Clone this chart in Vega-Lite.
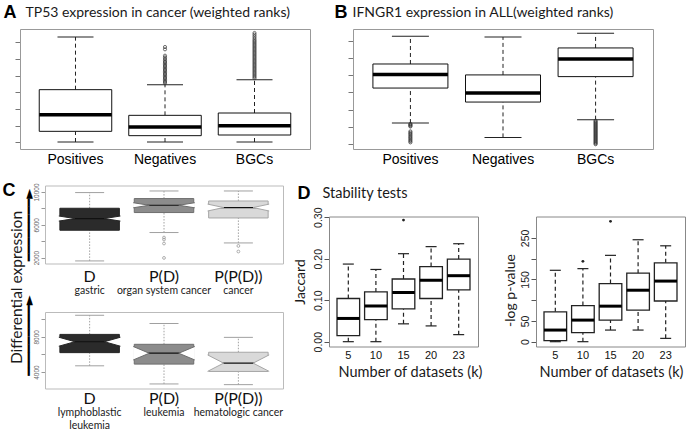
{
 "$schema": "https://vega.github.io/schema/vega-lite/v6.json",
 "width": 688, "height": 436,
 "autosize": {"type": "none"},
 "padding": 0,
 "background": "white",
 "config": {"view": {"stroke": null}, "axis": {"grid": false, "labelOverlap": false, "labelFlush": false, "labelBound": false, "titleLimit": 1000, "labelLimit": 1000, "domainWidth": 1}, "tick": {"opacity": 1}},
 "datasets": {
  "stats": [
   {"p": "A", "g": "Positives", "lo": 0.02, "q1": 0.66, "med": 1.66, "q3": 3.16, "hi": 6.32},
   {"p": "A", "g": "Negatives", "lo": 0.02, "q1": 0.4, "med": 0.92, "q3": 1.62, "hi": 3.46},
   {"p": "A", "g": "BGCs", "lo": 0.02, "q1": 0.44, "med": 1.0, "q3": 1.76, "hi": 3.76},
   {"p": "B", "g": "Positives", "lo": 1.21, "q1": 3.26, "med": 4.06, "q3": 4.67, "hi": 6.29},
   {"p": "B", "g": "Negatives", "lo": 0.37, "q1": 2.44, "med": 2.97, "q3": 4.03, "hi": 6.25},
   {"p": "B", "g": "BGCs", "lo": 1.41, "q1": 3.93, "med": 4.96, "q3": 5.61, "hi": 6.47},
   {"p": "Ct", "g": "D", "lo": 1585, "q1": 5329, "med": 6756, "q3": 8012, "hi": 9927},
   {"p": "Ct", "g": "P(D)", "lo": 5049, "q1": 7488, "med": 8378, "q3": 9195, "hi": 10122},
   {"p": "Ct", "g": "P(P(D))", "lo": 3780, "q1": 6829, "med": 8098, "q3": 8902, "hi": 10122},
   {"p": "Cb", "g": "D", "lo": 4708, "q1": 6202, "med": 7438, "q3": 8270, "hi": 10438},
   {"p": "Cb", "g": "P(D)", "lo": 2652, "q1": 4899, "med": 6135, "q3": 7146, "hi": 9506},
   {"p": "Cb", "g": "P(P(D))", "lo": 2573, "q1": 4067, "med": 5011, "q3": 6247, "hi": 7933},
   {"p": "D1", "g": "5", "lo": 0, "q1": 0.0148, "med": 0.056, "q3": 0.104, "hi": 0.187},
   {"p": "D1", "g": "10", "lo": 0, "q1": 0.053, "med": 0.086, "q3": 0.12, "hi": 0.174},
   {"p": "D1", "g": "15", "lo": 0.043, "q1": 0.079, "med": 0.1185, "q3": 0.151, "hi": 0.212},
   {"p": "D1", "g": "20", "lo": 0.038, "q1": 0.104, "med": 0.148, "q3": 0.181, "hi": 0.229},
   {"p": "D1", "g": "23", "lo": 0.017, "q1": 0.125, "med": 0.159, "q3": 0.199, "hi": 0.236},
   {"p": "D2", "g": "5", "lo": 0, "q1": 2.4, "med": 28, "q3": 72, "hi": 172},
   {"p": "D2", "g": "10", "lo": 0, "q1": 21.6, "med": 52, "q3": 87, "hi": 176},
   {"p": "D2", "g": "15", "lo": 28, "q1": 52, "med": 85.6, "q3": 140, "hi": 208},
   {"p": "D2", "g": "20", "lo": 28, "q1": 76, "med": 124, "q3": 165, "hi": 245.6},
   {"p": "D2", "g": "23", "lo": 8, "q1": 98, "med": 146, "q3": 190, "hi": 231}
  ],
  "outl": [
   {"p": "A", "g": "Negatives", "v": 3.54}, {"p": "A", "g": "Negatives", "v": 3.62}, {"p": "A", "g": "Negatives", "v": 3.7}, {"p": "A", "g": "Negatives", "v": 3.78},
   {"p": "A", "g": "Negatives", "v": 3.86}, {"p": "A", "g": "Negatives", "v": 3.94}, {"p": "A", "g": "Negatives", "v": 4.02}, {"p": "A", "g": "Negatives", "v": 4.1},
   {"p": "A", "g": "Negatives", "v": 4.18}, {"p": "A", "g": "Negatives", "v": 4.26}, {"p": "A", "g": "Negatives", "v": 4.34}, {"p": "A", "g": "Negatives", "v": 4.42},
   {"p": "A", "g": "Negatives", "v": 4.5}, {"p": "A", "g": "Negatives", "v": 4.58}, {"p": "A", "g": "Negatives", "v": 4.66}, {"p": "A", "g": "Negatives", "v": 4.74},
   {"p": "A", "g": "Negatives", "v": 4.82}, {"p": "A", "g": "Negatives", "v": 4.9}, {"p": "A", "g": "Negatives", "v": 5.0}, {"p": "A", "g": "Negatives", "v": 5.1},
   {"p": "A", "g": "Negatives", "v": 5.2}, {"p": "A", "g": "Negatives", "v": 5.58}, {"p": "A", "g": "Negatives", "v": 5.72},
   {"p": "A", "g": "BGCs", "v": 3.84}, {"p": "A", "g": "BGCs", "v": 3.92}, {"p": "A", "g": "BGCs", "v": 4.0}, {"p": "A", "g": "BGCs", "v": 4.08},
   {"p": "A", "g": "BGCs", "v": 4.16}, {"p": "A", "g": "BGCs", "v": 4.24}, {"p": "A", "g": "BGCs", "v": 4.32}, {"p": "A", "g": "BGCs", "v": 4.4},
   {"p": "A", "g": "BGCs", "v": 4.48}, {"p": "A", "g": "BGCs", "v": 4.56}, {"p": "A", "g": "BGCs", "v": 4.64}, {"p": "A", "g": "BGCs", "v": 4.72},
   {"p": "A", "g": "BGCs", "v": 4.8}, {"p": "A", "g": "BGCs", "v": 4.88}, {"p": "A", "g": "BGCs", "v": 4.96}, {"p": "A", "g": "BGCs", "v": 5.04},
   {"p": "A", "g": "BGCs", "v": 5.12}, {"p": "A", "g": "BGCs", "v": 5.2}, {"p": "A", "g": "BGCs", "v": 5.28}, {"p": "A", "g": "BGCs", "v": 5.36},
   {"p": "A", "g": "BGCs", "v": 5.44}, {"p": "A", "g": "BGCs", "v": 5.52}, {"p": "A", "g": "BGCs", "v": 5.6}, {"p": "A", "g": "BGCs", "v": 5.68},
   {"p": "A", "g": "BGCs", "v": 5.76}, {"p": "A", "g": "BGCs", "v": 5.84}, {"p": "A", "g": "BGCs", "v": 5.92}, {"p": "A", "g": "BGCs", "v": 6.0},
   {"p": "A", "g": "BGCs", "v": 6.08}, {"p": "A", "g": "BGCs", "v": 6.16}, {"p": "A", "g": "BGCs", "v": 6.26}, {"p": "A", "g": "BGCs", "v": 6.36},
   {"p": "A", "g": "BGCs", "v": 6.46}, {"p": "A", "g": "BGCs", "v": 6.56},
   {"p": "B", "g": "Positives", "v": 1.16}, {"p": "B", "g": "Positives", "v": 1.11}, {"p": "B", "g": "Positives", "v": 1.06}, {"p": "B", "g": "Positives", "v": 1.01},
   {"p": "B", "g": "Positives", "v": 0.72}, {"p": "B", "g": "Positives", "v": 0.64}, {"p": "B", "g": "Positives", "v": 0.56}, {"p": "B", "g": "Positives", "v": 0.48},
   {"p": "B", "g": "Positives", "v": 0.4}, {"p": "B", "g": "Positives", "v": 0.32}, {"p": "B", "g": "Positives", "v": 0.24}, {"p": "B", "g": "Positives", "v": 0.16},
   {"p": "B", "g": "Positives", "v": 0.08},
   {"p": "B", "g": "BGCs", "v": 1.35}, {"p": "B", "g": "BGCs", "v": 1.29}, {"p": "B", "g": "BGCs", "v": 1.23}, {"p": "B", "g": "BGCs", "v": 1.17},
   {"p": "B", "g": "BGCs", "v": 1.11}, {"p": "B", "g": "BGCs", "v": 1.05}, {"p": "B", "g": "BGCs", "v": 0.99}, {"p": "B", "g": "BGCs", "v": 0.93},
   {"p": "B", "g": "BGCs", "v": 0.87}, {"p": "B", "g": "BGCs", "v": 0.81}, {"p": "B", "g": "BGCs", "v": 0.75}, {"p": "B", "g": "BGCs", "v": 0.69},
   {"p": "B", "g": "BGCs", "v": 0.63}, {"p": "B", "g": "BGCs", "v": 0.57}, {"p": "B", "g": "BGCs", "v": 0.51}, {"p": "B", "g": "BGCs", "v": 0.45},
   {"p": "B", "g": "BGCs", "v": 0.39}, {"p": "B", "g": "BGCs", "v": 0.33}, {"p": "B", "g": "BGCs", "v": 0.27}, {"p": "B", "g": "BGCs", "v": 0.21},
   {"p": "B", "g": "BGCs", "v": 0.15}, {"p": "B", "g": "BGCs", "v": 0.09}, {"p": "B", "g": "BGCs", "v": 0.03}, {"p": "B", "g": "BGCs", "v": -0.03},
   {"p": "Ct", "g": "P(D)", "v": 4439}, {"p": "Ct", "g": "P(D)", "v": 4195}, {"p": "Ct", "g": "P(D)", "v": 3707}, {"p": "Ct", "g": "P(D)", "v": 1951},
   {"p": "Ct", "g": "P(P(D))", "v": 3415}, {"p": "Ct", "g": "P(P(D))", "v": 2732},
   {"p": "D1", "g": "15", "v": 0.293},
   {"p": "D2", "g": "10", "v": 193.6}, {"p": "D2", "g": "15", "v": 290}
  ]
 },
 "resolve": {"scale": {"x": "independent", "y": "independent", "shape": "independent"}, "axis": {"x": "independent", "y": "independent"}},
 "layer": [
  {
   "data": {"name": "stats"},
   "transform": [{"filter": "datum.p == 'A'"}],
   "resolve": {"axis": {"x": "independent", "y": "independent"}},
   "layer": [
    {"mark": {"type": "rule", "strokeDash": [4, 3], "color": "#222", "strokeWidth": 1},
     "encoding": {
      "x": {"field": "g", "type": "nominal", "scale": {"domain": ["Positives", "Negatives", "BGCs"], "range": [20, 310], "paddingInner": 0.19, "paddingOuter": 0.215},
            "axis": {"orient": "top", "offset": -29, "labels": false, "ticks": false, "domainColor": "#999", "title": "TP53 expression in cancer (weighted ranks)", "titleX": 25, "titleY": -17, "titleAngle": 0, "titleAlign": "left", "titleBaseline": "middle", "titleFont": "Lato", "titleFontSize": 14, "titleFontWeight": "normal", "titleColor": "#1a1a1a"}},
      "y": {"field": "lo", "type": "quantitative", "scale": {"domain": [-0.4, 6.8], "range": [149, 29], "nice": false, "zero": false},
            "axis": {"orient": "right", "offset": -378, "labels": false, "ticks": false, "domainColor": "#999", "title": null}},
      "y2": {"field": "q1"}}},
    {"mark": {"type": "rule", "strokeDash": [4, 3], "color": "#222", "strokeWidth": 1},
     "encoding": {
      "x": {"field": "g", "type": "nominal", "scale": {"domain": ["Positives", "Negatives", "BGCs"], "range": [20, 310], "paddingInner": 0.19, "paddingOuter": 0.215}, "axis": null},
      "y": {"field": "q3", "type": "quantitative", "scale": {"domain": [-0.4, 6.8], "range": [149, 29], "nice": false, "zero": false}, "axis": null},
      "y2": {"field": "hi"}}},
    {"mark": {"type": "tick", "size": 36, "thickness": 1, "color": "#222", "opacity": 1},
     "encoding": {
      "x": {"field": "g", "type": "nominal", "scale": {"domain": ["Positives", "Negatives", "BGCs"], "range": [20, 310], "paddingInner": 0.19, "paddingOuter": 0.215}, "axis": null},
      "y": {"field": "lo", "type": "quantitative", "scale": {"domain": [-0.4, 6.8], "range": [149, 29], "nice": false, "zero": false}, "axis": null}}},
    {"mark": {"type": "tick", "size": 36, "thickness": 1, "color": "#222", "opacity": 1},
     "encoding": {
      "x": {"field": "g", "type": "nominal", "scale": {"domain": ["Positives", "Negatives", "BGCs"], "range": [20, 310], "paddingInner": 0.19, "paddingOuter": 0.215}, "axis": null},
      "y": {"field": "hi", "type": "quantitative", "scale": {"domain": [-0.4, 6.8], "range": [149, 29], "nice": false, "zero": false}, "axis": null}}},
    {"mark": {"type": "bar", "fill": "white", "stroke": "#111", "strokeWidth": 1},
     "encoding": {
      "x": {"field": "g", "type": "nominal", "scale": {"domain": ["Positives", "Negatives", "BGCs"], "range": [20, 310], "paddingInner": 0.19, "paddingOuter": 0.215},
            "axis": {"orient": "bottom", "offset": -287, "ticks": false, "domainColor": "#999", "labelFont": "Liberation Sans", "labelFontSize": 14, "labelColor": "#000", "labelPadding": 3, "labelAngle": 0, "title": null}},
      "y": {"field": "q1", "type": "quantitative", "scale": {"domain": [-0.4, 6.8], "range": [149, 29], "nice": false, "zero": false},
            "axis": {"orient": "left", "offset": -20, "values": [0, 1, 2, 3, 4, 5, 6], "labels": false, "tickSize": 5, "tickColor": "#777", "domainColor": "#999", "title": "A", "titleX": -17, "titleY": 12, "titleAngle": 0, "titleAlign": "left", "titleBaseline": "middle", "titleFont": "Liberation Sans", "titleFontSize": 18, "titleFontWeight": "bold", "titleColor": "#000"}},
      "y2": {"field": "q3"}}},
    {"mark": {"type": "tick", "size": 72.5, "thickness": 3.5, "color": "#000", "opacity": 1},
     "encoding": {
      "x": {"field": "g", "type": "nominal", "scale": {"domain": ["Positives", "Negatives", "BGCs"], "range": [20, 310], "paddingInner": 0.19, "paddingOuter": 0.215}, "axis": null},
      "y": {"field": "med", "type": "quantitative", "scale": {"domain": [-0.4, 6.8], "range": [149, 29], "nice": false, "zero": false}, "axis": null}}},
    {"data": {"name": "outl"}, "transform": [{"filter": "datum.p == 'A'"}],
     "mark": {"type": "point", "shape": "circle", "size": 10, "filled": false, "stroke": "#333", "strokeWidth": 0.7, "opacity": 1},
     "encoding": {
      "x": {"field": "g", "type": "nominal", "scale": {"domain": ["Positives", "Negatives", "BGCs"], "range": [20, 310], "paddingInner": 0.19, "paddingOuter": 0.215}, "axis": null},
      "y": {"field": "v", "type": "quantitative", "scale": {"domain": [-0.4, 6.8], "range": [149, 29], "nice": false, "zero": false}, "axis": null}}}
   ]
  },
  {
   "data": {"name": "stats"},
   "transform": [{"filter": "datum.p == 'B'"}],
   "resolve": {"axis": {"x": "independent", "y": "independent"}},
   "layer": [
    {"mark": {"type": "rule", "strokeDash": [4, 3], "color": "#222", "strokeWidth": 1},
     "encoding": {
      "x": {"field": "g", "type": "nominal", "scale": {"domain": ["Positives", "Negatives", "BGCs"], "range": [353, 653], "paddingInner": 0.19, "paddingOuter": 0.215},
            "axis": {"orient": "top", "offset": -29, "labels": false, "ticks": false, "domainColor": "#999", "title": "IFNGR1 expression in ALL(weighted ranks)", "titleX": 352, "titleY": -17, "titleAngle": 0, "titleAlign": "left", "titleBaseline": "middle", "titleFont": "Lato", "titleFontSize": 14, "titleFontWeight": "normal", "titleColor": "#1a1a1a"}},
      "y": {"field": "lo", "type": "quantitative", "scale": {"domain": [-0.31, 6.72], "range": [149, 29], "nice": false, "zero": false},
            "axis": {"orient": "right", "offset": -35, "labels": false, "ticks": false, "domainColor": "#999", "title": null}},
      "y2": {"field": "q1"}}},
    {"mark": {"type": "rule", "strokeDash": [4, 3], "color": "#222", "strokeWidth": 1},
     "encoding": {
      "x": {"field": "g", "type": "nominal", "scale": {"domain": ["Positives", "Negatives", "BGCs"], "range": [353, 653], "paddingInner": 0.19, "paddingOuter": 0.215}, "axis": null},
      "y": {"field": "q3", "type": "quantitative", "scale": {"domain": [-0.31, 6.72], "range": [149, 29], "nice": false, "zero": false}, "axis": null},
      "y2": {"field": "hi"}}},
    {"mark": {"type": "tick", "size": 37, "thickness": 1, "color": "#222", "opacity": 1},
     "encoding": {
      "x": {"field": "g", "type": "nominal", "scale": {"domain": ["Positives", "Negatives", "BGCs"], "range": [353, 653], "paddingInner": 0.19, "paddingOuter": 0.215}, "axis": null},
      "y": {"field": "lo", "type": "quantitative", "scale": {"domain": [-0.31, 6.72], "range": [149, 29], "nice": false, "zero": false}, "axis": null}}},
    {"mark": {"type": "tick", "size": 37, "thickness": 1, "color": "#222", "opacity": 1},
     "encoding": {
      "x": {"field": "g", "type": "nominal", "scale": {"domain": ["Positives", "Negatives", "BGCs"], "range": [353, 653], "paddingInner": 0.19, "paddingOuter": 0.215}, "axis": null},
      "y": {"field": "hi", "type": "quantitative", "scale": {"domain": [-0.31, 6.72], "range": [149, 29], "nice": false, "zero": false}, "axis": null}}},
    {"mark": {"type": "bar", "fill": "white", "stroke": "#111", "strokeWidth": 1},
     "encoding": {
      "x": {"field": "g", "type": "nominal", "scale": {"domain": ["Positives", "Negatives", "BGCs"], "range": [353, 653], "paddingInner": 0.19, "paddingOuter": 0.215},
            "axis": {"orient": "bottom", "offset": -287, "ticks": false, "domainColor": "#999", "labelFont": "Liberation Sans", "labelFontSize": 14, "labelColor": "#000", "labelPadding": 3, "labelAngle": 0, "title": null}},
      "y": {"field": "q1", "type": "quantitative", "scale": {"domain": [-0.31, 6.72], "range": [149, 29], "nice": false, "zero": false},
            "axis": {"orient": "left", "offset": -353, "values": [0, 1, 2, 3, 4, 5, 6], "labels": false, "tickSize": 5, "tickColor": "#777", "domainColor": "#999", "title": "B", "titleX": -19, "titleY": 12, "titleAngle": 0, "titleAlign": "left", "titleBaseline": "middle", "titleFont": "Liberation Sans", "titleFontSize": 18, "titleFontWeight": "bold", "titleColor": "#000"}},
      "y2": {"field": "q3"}}},
    {"mark": {"type": "tick", "size": 75, "thickness": 3.5, "color": "#000", "opacity": 1},
     "encoding": {
      "x": {"field": "g", "type": "nominal", "scale": {"domain": ["Positives", "Negatives", "BGCs"], "range": [353, 653], "paddingInner": 0.19, "paddingOuter": 0.215}, "axis": null},
      "y": {"field": "med", "type": "quantitative", "scale": {"domain": [-0.31, 6.72], "range": [149, 29], "nice": false, "zero": false}, "axis": null}}},
    {"data": {"name": "outl"}, "transform": [{"filter": "datum.p == 'B'"}],
     "mark": {"type": "point", "shape": "circle", "size": 10, "filled": false, "stroke": "#333", "strokeWidth": 0.8, "opacity": 1},
     "encoding": {
      "x": {"field": "g", "type": "nominal", "scale": {"domain": ["Positives", "Negatives", "BGCs"], "range": [353, 653], "paddingInner": 0.19, "paddingOuter": 0.215}, "axis": null},
      "y": {"field": "v", "type": "quantitative", "scale": {"domain": [-0.31, 6.72], "range": [149, 29], "nice": false, "zero": false}, "axis": null}}}
   ]
  },
  {
   "data": {"name": "stats"},
   "transform": [{"filter": "datum.p == 'Ct'"}],
   "resolve": {"axis": {"x": "independent", "y": "independent"}, "scale": {"shape": "independent"}},
   "layer": [
    {"mark": {"type": "rule", "strokeDash": [1.5, 1.5], "color": "#8a8a8a", "strokeWidth": 0.8},
     "encoding": {
      "x": {"field": "g", "type": "nominal", "scale": {"domain": ["D", "P(D)", "P(P(D))"], "range": [45, 283], "paddingInner": 0.2, "paddingOuter": 0.2},
            "axis": {"orient": "top", "offset": -185.5, "labels": false, "ticks": false, "domainColor": "#bbb", "title": "C", "titleX": 2, "titleY": 4.5, "titleAngle": 0, "titleAlign": "left", "titleBaseline": "middle", "titleFont": "Liberation Sans", "titleFontSize": 18, "titleFontWeight": "bold", "titleColor": "#000"}},
      "y": {"field": "lo", "type": "quantitative", "scale": {"domain": [1270, 10790], "range": [263.5, 185.5], "nice": false, "zero": false},
            "axis": {"orient": "right", "offset": -405, "labels": false, "ticks": false, "domainColor": "#bbb", "title": "Differential expression", "titleX": -267, "titleY": 287, "titleAngle": -90, "titleAlign": "center", "titleBaseline": "middle", "titleFont": "Lato", "titleFontSize": 15.5, "titleFontWeight": "normal", "titleColor": "#1a1a1a"}},
      "y2": {"field": "q1"}}},
    {"mark": {"type": "rule", "strokeDash": [1.5, 1.5], "color": "#8a8a8a", "strokeWidth": 0.8},
     "encoding": {
      "x": {"field": "g", "type": "nominal", "scale": {"domain": ["D", "P(D)", "P(P(D))"], "range": [45, 283], "paddingInner": 0.2, "paddingOuter": 0.2}, "axis": null},
      "y": {"field": "q3", "type": "quantitative", "scale": {"domain": [1270, 10790], "range": [263.5, 185.5], "nice": false, "zero": false}, "axis": null},
      "y2": {"field": "hi"}}},
    {"mark": {"type": "tick", "size": 29, "thickness": 1, "color": "#a0a0a0", "opacity": 1},
     "encoding": {
      "x": {"field": "g", "type": "nominal", "scale": {"domain": ["D", "P(D)", "P(P(D))"], "range": [45, 283], "paddingInner": 0.2, "paddingOuter": 0.2},
            "axis": {"orient": "bottom", "offset": -172.5, "domain": false, "ticks": false, "labelExpr": "datum.value == 'D' ? 'gastric' : datum.value == 'P(D)' ? 'organ system cancer' : 'cancer'", "labelFont": "Lato", "labelFontSize": 10.5, "labelColor": "#222", "labelPadding": 22, "labelAngle": 0, "title": null}},
      "y": {"field": "lo", "type": "quantitative", "scale": {"domain": [1270, 10790], "range": [263.5, 185.5], "nice": false, "zero": false}, "axis": null}}},
    {"mark": {"type": "tick", "size": 29, "thickness": 1, "color": "#a0a0a0", "opacity": 1},
     "encoding": {
      "x": {"field": "g", "type": "nominal", "scale": {"domain": ["D", "P(D)", "P(P(D))"], "range": [45, 283], "paddingInner": 0.2, "paddingOuter": 0.2}, "axis": null},
      "y": {"field": "hi", "type": "quantitative", "scale": {"domain": [1270, 10790], "range": [263.5, 185.5], "nice": false, "zero": false}, "axis": null}}},
    {"mark": {"type": "bar", "strokeWidth": 1},
     "encoding": {
      "x": {"field": "g", "type": "nominal", "scale": {"domain": ["D", "P(D)", "P(P(D))"], "range": [45, 283], "paddingInner": 0.2, "paddingOuter": 0.2},
            "axis": {"orient": "bottom", "offset": -172.5, "ticks": false, "domainColor": "#bbb", "labelFont": "Lato", "labelFontSize": 16, "labelColor": "#111", "labelPadding": 5, "labelAngle": 0, "title": null}},
      "y": {"field": "q1", "type": "quantitative", "scale": {"domain": [1270, 10790], "range": [263.5, 185.5], "nice": false, "zero": false},
            "axis": {"orient": "left", "offset": -45, "values": [2000, 4000, 6000, 8000, 10000], "format": "d", "labelExpr": "datum.value % 4000 == 2000 ? datum.label : ''", "labelAngle": -90, "labelAlign": "center", "labelBaseline": "bottom", "labelFont": "Liberation Sans", "labelFontSize": 6.5, "labelColor": "#666", "labelPadding": 2, "tickSize": 4, "tickColor": "#999", "domainColor": "#bbb", "title": "━━━━━━━━►", "titleX": -17, "titleY": 224.5, "titleAngle": -90, "titleAlign": "center", "titleBaseline": "middle", "titleFont": "DejaVu Sans", "titleFontSize": 13, "titleFontWeight": "normal", "titleColor": "#000"}},
      "y2": {"field": "q3"},
      "fill": {"field": "g", "type": "nominal", "scale": {"domain": ["D", "P(D)", "P(P(D))"], "range": ["#2b2b2b", "#8c8c8c", "#d9d9d9"]}, "legend": null},
      "stroke": {"field": "g", "type": "nominal", "scale": {"domain": ["D", "P(D)", "P(P(D))"], "range": ["#262626", "#6e6e6e", "#a6a6a6"]}, "legend": null}}},
    {"mark": {"type": "tick", "size": 59.5, "thickness": 1.2, "color": "#111", "opacity": 1},
     "encoding": {
      "x": {"field": "g", "type": "nominal", "scale": {"domain": ["D", "P(D)", "P(P(D))"], "range": [45, 283], "paddingInner": 0.2, "paddingOuter": 0.2}, "axis": null},
      "y": {"field": "med", "type": "quantitative", "scale": {"domain": [1270, 10790], "range": [263.5, 185.5], "nice": false, "zero": false}, "axis": null}}},
    {"mark": {"type": "point", "size": 900, "filled": true, "fill": "white", "strokeWidth": 1, "opacity": 1, "xOffset": -29.75},
     "encoding": {
      "x": {"field": "g", "type": "nominal", "scale": {"domain": ["D", "P(D)", "P(P(D))"], "range": [45, 283], "paddingInner": 0.2, "paddingOuter": 0.2}, "axis": null},
      "y": {"field": "med", "type": "quantitative", "scale": {"domain": [1270, 10790], "range": [263.5, 185.5], "nice": false, "zero": false}, "axis": null},
      "shape": {"field": "g", "type": "nominal", "scale": {"domain": ["D", "P(D)", "P(P(D))"], "range": ["M-0.07,-0.17L1,0L-0.07,0.17", "M-0.07,-0.17L1,0L-0.07,0.17", "M-0.07,-0.23L1,0L-0.07,0.23"]}, "legend": null},
      "stroke": {"field": "g", "type": "nominal", "scale": {"domain": ["D", "P(D)", "P(P(D))"], "range": ["#262626", "#6e6e6e", "#a6a6a6"]}, "legend": null}}},
    {"mark": {"type": "point", "size": 900, "filled": true, "fill": "white", "strokeWidth": 1, "opacity": 1, "xOffset": 29.75},
     "encoding": {
      "x": {"field": "g", "type": "nominal", "scale": {"domain": ["D", "P(D)", "P(P(D))"], "range": [45, 283], "paddingInner": 0.2, "paddingOuter": 0.2}, "axis": null},
      "y": {"field": "med", "type": "quantitative", "scale": {"domain": [1270, 10790], "range": [263.5, 185.5], "nice": false, "zero": false}, "axis": null},
      "shape": {"field": "g", "type": "nominal", "scale": {"domain": ["D", "P(D)", "P(P(D))"], "range": ["M0.07,-0.17L-1,0L0.07,0.17", "M0.07,-0.17L-1,0L0.07,0.17", "M0.07,-0.23L-1,0L0.07,0.23"]}, "legend": null},
      "stroke": {"field": "g", "type": "nominal", "scale": {"domain": ["D", "P(D)", "P(P(D))"], "range": ["#262626", "#6e6e6e", "#a6a6a6"]}, "legend": null}}},
    {"data": {"name": "outl"}, "transform": [{"filter": "datum.p == 'Ct'"}],
     "mark": {"type": "point", "shape": "circle", "size": 8, "filled": false, "stroke": "#999", "strokeWidth": 0.8, "opacity": 1},
     "encoding": {
      "x": {"field": "g", "type": "nominal", "scale": {"domain": ["D", "P(D)", "P(P(D))"], "range": [45, 283], "paddingInner": 0.2, "paddingOuter": 0.2}, "axis": null},
      "y": {"field": "v", "type": "quantitative", "scale": {"domain": [1270, 10790], "range": [263.5, 185.5], "nice": false, "zero": false}, "axis": null}}}
   ]
  },
  {
   "data": {"name": "stats"},
   "transform": [{"filter": "datum.p == 'Cb'"}],
   "resolve": {"axis": {"x": "independent", "y": "independent"}, "scale": {"shape": "independent"}},
   "layer": [
    {"mark": {"type": "rule", "strokeDash": [1.5, 1.5], "color": "#8a8a8a", "strokeWidth": 0.8},
     "encoding": {
      "x": {"field": "g", "type": "nominal", "scale": {"domain": ["D", "P(D)", "P(P(D))"], "range": [45, 283], "paddingInner": 0.2, "paddingOuter": 0.2},
            "axis": {"orient": "top", "offset": -312, "labels": false, "ticks": false, "domainColor": "#bbb", "title": null}},
      "y": {"field": "lo", "type": "quantitative", "scale": {"domain": [2135, 10809], "range": [388.5, 312], "nice": false, "zero": false},
            "axis": {"orient": "right", "offset": -405, "labels": false, "ticks": false, "domainColor": "#bbb", "title": null}},
      "y2": {"field": "q1"}}},
    {"mark": {"type": "rule", "strokeDash": [1.5, 1.5], "color": "#8a8a8a", "strokeWidth": 0.8},
     "encoding": {
      "x": {"field": "g", "type": "nominal", "scale": {"domain": ["D", "P(D)", "P(P(D))"], "range": [45, 283], "paddingInner": 0.2, "paddingOuter": 0.2}, "axis": null},
      "y": {"field": "q3", "type": "quantitative", "scale": {"domain": [2135, 10809], "range": [388.5, 312], "nice": false, "zero": false}, "axis": null},
      "y2": {"field": "hi"}}},
    {"mark": {"type": "tick", "size": 29, "thickness": 1, "color": "#a0a0a0", "opacity": 1},
     "encoding": {
      "x": {"field": "g", "type": "nominal", "scale": {"domain": ["D", "P(D)", "P(P(D))"], "range": [45, 283], "paddingInner": 0.2, "paddingOuter": 0.2},
            "axis": {"orient": "bottom", "offset": -47.5, "domain": false, "ticks": false, "labelExpr": "datum.value == 'D' ? ['lymphoblastic', 'leukemia'] : datum.value == 'P(D)' ? 'leukemia' : 'hematologic cancer'", "labelFont": "Lato", "labelFontSize": 10.5, "labelLineHeight": 13, "labelColor": "#222", "labelPadding": 19, "labelAngle": 0, "title": null}},
      "y": {"field": "lo", "type": "quantitative", "scale": {"domain": [2135, 10809], "range": [388.5, 312], "nice": false, "zero": false}, "axis": null}}},
    {"mark": {"type": "tick", "size": 29, "thickness": 1, "color": "#a0a0a0", "opacity": 1},
     "encoding": {
      "x": {"field": "g", "type": "nominal", "scale": {"domain": ["D", "P(D)", "P(P(D))"], "range": [45, 283], "paddingInner": 0.2, "paddingOuter": 0.2}, "axis": null},
      "y": {"field": "hi", "type": "quantitative", "scale": {"domain": [2135, 10809], "range": [388.5, 312], "nice": false, "zero": false}, "axis": null}}},
    {"mark": {"type": "bar", "strokeWidth": 1},
     "encoding": {
      "x": {"field": "g", "type": "nominal", "scale": {"domain": ["D", "P(D)", "P(P(D))"], "range": [45, 283], "paddingInner": 0.2, "paddingOuter": 0.2},
            "axis": {"orient": "bottom", "offset": -47.5, "ticks": false, "domainColor": "#bbb", "labelFont": "Lato", "labelFontSize": 16, "labelColor": "#111", "labelPadding": 2, "labelAngle": 0, "title": null}},
      "y": {"field": "q1", "type": "quantitative", "scale": {"domain": [2135, 10809], "range": [388.5, 312], "nice": false, "zero": false},
            "axis": {"orient": "left", "offset": -45, "values": [4000, 6000, 8000, 10000], "format": "d", "labelExpr": "datum.value % 4000 == 0 ? datum.label : ''", "labelAngle": -90, "labelAlign": "center", "labelBaseline": "bottom", "labelFont": "Liberation Sans", "labelFontSize": 6.5, "labelColor": "#666", "labelPadding": 2, "tickSize": 4, "tickColor": "#999", "domainColor": "#bbb", "title": "━━━━━━━━━►", "titleX": -17, "titleY": 335, "titleAngle": -90, "titleAlign": "center", "titleBaseline": "middle", "titleFont": "DejaVu Sans", "titleFontSize": 13, "titleFontWeight": "normal", "titleColor": "#000"}},
      "y2": {"field": "q3"},
      "fill": {"field": "g", "type": "nominal", "scale": {"domain": ["D", "P(D)", "P(P(D))"], "range": ["#2b2b2b", "#8c8c8c", "#d9d9d9"]}, "legend": null},
      "stroke": {"field": "g", "type": "nominal", "scale": {"domain": ["D", "P(D)", "P(P(D))"], "range": ["#262626", "#6e6e6e", "#a6a6a6"]}, "legend": null}}},
    {"mark": {"type": "tick", "size": 59.5, "thickness": 1.2, "color": "#111", "opacity": 1},
     "encoding": {
      "x": {"field": "g", "type": "nominal", "scale": {"domain": ["D", "P(D)", "P(P(D))"], "range": [45, 283], "paddingInner": 0.2, "paddingOuter": 0.2}, "axis": null},
      "y": {"field": "med", "type": "quantitative", "scale": {"domain": [2135, 10809], "range": [388.5, 312], "nice": false, "zero": false}, "axis": null}}},
    {"mark": {"type": "point", "size": 900, "filled": true, "fill": "white", "strokeWidth": 1, "opacity": 1, "xOffset": -29.75},
     "encoding": {
      "x": {"field": "g", "type": "nominal", "scale": {"domain": ["D", "P(D)", "P(P(D))"], "range": [45, 283], "paddingInner": 0.2, "paddingOuter": 0.2}, "axis": null},
      "y": {"field": "med", "type": "quantitative", "scale": {"domain": [2135, 10809], "range": [388.5, 312], "nice": false, "zero": false}, "axis": null},
      "shape": {"field": "g", "type": "nominal", "scale": {"domain": ["D", "P(D)", "P(P(D))"], "range": ["M-0.07,-0.3L1,0L-0.07,0.3", "M-0.07,-0.45L1,0L-0.07,0.45", "M-0.07,-0.55L1,0L-0.07,0.55"]}, "legend": null},
      "stroke": {"field": "g", "type": "nominal", "scale": {"domain": ["D", "P(D)", "P(P(D))"], "range": ["#262626", "#6e6e6e", "#a6a6a6"]}, "legend": null}}},
    {"mark": {"type": "point", "size": 900, "filled": true, "fill": "white", "strokeWidth": 1, "opacity": 1, "xOffset": 29.75},
     "encoding": {
      "x": {"field": "g", "type": "nominal", "scale": {"domain": ["D", "P(D)", "P(P(D))"], "range": [45, 283], "paddingInner": 0.2, "paddingOuter": 0.2}, "axis": null},
      "y": {"field": "med", "type": "quantitative", "scale": {"domain": [2135, 10809], "range": [388.5, 312], "nice": false, "zero": false}, "axis": null},
      "shape": {"field": "g", "type": "nominal", "scale": {"domain": ["D", "P(D)", "P(P(D))"], "range": ["M0.07,-0.3L-1,0L0.07,0.3", "M0.07,-0.45L-1,0L0.07,0.45", "M0.07,-0.55L-1,0L0.07,0.55"]}, "legend": null},
      "stroke": {"field": "g", "type": "nominal", "scale": {"domain": ["D", "P(D)", "P(P(D))"], "range": ["#262626", "#6e6e6e", "#a6a6a6"]}, "legend": null}}}
   ]
  },
  {
   "data": {"name": "stats"},
   "transform": [{"filter": "datum.p == 'D1'"}],
   "resolve": {"axis": {"x": "independent", "y": "independent"}},
   "layer": [
    {"mark": {"type": "rule", "strokeDash": [4, 3], "color": "#222", "strokeWidth": 1.2},
     "encoding": {
      "x": {"field": "g", "type": "nominal", "scale": {"domain": ["5", "10", "15", "20", "23"], "range": [329, 478], "paddingInner": 0.18, "paddingOuter": 0.29},
            "axis": {"orient": "top", "offset": -216.5, "labels": false, "ticks": false, "domainColor": "#888", "title": "D", "titleX": 297, "titleY": -23.5, "titleAngle": 0, "titleAlign": "left", "titleBaseline": "middle", "titleFont": "Liberation Sans", "titleFontSize": 18, "titleFontWeight": "bold", "titleColor": "#000"}},
      "y": {"field": "lo", "type": "quantitative", "scale": {"domain": [-0.0116, 0.3016], "range": [346.5, 216.5], "nice": false, "zero": false},
            "axis": {"orient": "right", "offset": -210, "labels": false, "ticks": false, "domainColor": "#888", "title": "Stability tests", "titleX": -156, "titleY": 193, "titleAngle": 0, "titleAlign": "left", "titleBaseline": "middle", "titleFont": "Lato", "titleFontSize": 14.5, "titleFontWeight": "normal", "titleColor": "#1a1a1a"}},
      "y2": {"field": "q1"}}},
    {"mark": {"type": "rule", "strokeDash": [4, 3], "color": "#222", "strokeWidth": 1.2},
     "encoding": {
      "x": {"field": "g", "type": "nominal", "scale": {"domain": ["5", "10", "15", "20", "23"], "range": [329, 478], "paddingInner": 0.18, "paddingOuter": 0.29}, "axis": null},
      "y": {"field": "q3", "type": "quantitative", "scale": {"domain": [-0.0116, 0.3016], "range": [346.5, 216.5], "nice": false, "zero": false}, "axis": null},
      "y2": {"field": "hi"}}},
    {"mark": {"type": "tick", "size": 11, "thickness": 1.2, "color": "#222", "opacity": 1},
     "encoding": {
      "x": {"field": "g", "type": "nominal", "scale": {"domain": ["5", "10", "15", "20", "23"], "range": [329, 478], "paddingInner": 0.18, "paddingOuter": 0.29}, "axis": null},
      "y": {"field": "lo", "type": "quantitative", "scale": {"domain": [-0.0116, 0.3016], "range": [346.5, 216.5], "nice": false, "zero": false}, "axis": null}}},
    {"mark": {"type": "tick", "size": 11, "thickness": 1.2, "color": "#222", "opacity": 1},
     "encoding": {
      "x": {"field": "g", "type": "nominal", "scale": {"domain": ["5", "10", "15", "20", "23"], "range": [329, 478], "paddingInner": 0.18, "paddingOuter": 0.29}, "axis": null},
      "y": {"field": "hi", "type": "quantitative", "scale": {"domain": [-0.0116, 0.3016], "range": [346.5, 216.5], "nice": false, "zero": false}, "axis": null}}},
    {"mark": {"type": "bar", "fill": "white", "stroke": "#222", "strokeWidth": 1.3},
     "encoding": {
      "x": {"field": "g", "type": "nominal", "scale": {"domain": ["5", "10", "15", "20", "23"], "range": [329, 478], "paddingInner": 0.18, "paddingOuter": 0.29},
            "axis": {"orient": "bottom", "offset": -89.5, "ticks": false, "domainColor": "#888", "labelFont": "Liberation Sans", "labelFontSize": 11, "labelColor": "#111", "labelPadding": 3, "labelAngle": 0, "title": "Number of datasets (k)", "titleX": 410, "titleY": 25.5, "titleAngle": 0, "titleAlign": "center", "titleBaseline": "middle", "titleFont": "Lato", "titleFontSize": 14.5, "titleFontWeight": "normal", "titleColor": "#1a1a1a"}},
      "y": {"field": "q1", "type": "quantitative", "scale": {"domain": [-0.0116, 0.3016], "range": [346.5, 216.5], "nice": false, "zero": false},
            "axis": {"orient": "left", "offset": -329, "values": [0, 0.1, 0.2, 0.3], "format": ".2f", "labelAngle": -90, "labelAlign": "center", "labelBaseline": "bottom", "labelFont": "Liberation Sans", "labelFontSize": 10.5, "labelColor": "#222", "labelPadding": 1, "tickSize": 5, "tickColor": "#555", "domainColor": "#888", "title": "Jaccard", "titleX": -29, "titleY": 281.5, "titleAngle": -90, "titleAlign": "center", "titleBaseline": "middle", "titleFont": "Lato", "titleFontSize": 14, "titleFontWeight": "normal", "titleColor": "#1a1a1a"}},
      "y2": {"field": "q3"}}},
    {"mark": {"type": "tick", "size": 22.6, "thickness": 3, "color": "#000", "opacity": 1},
     "encoding": {
      "x": {"field": "g", "type": "nominal", "scale": {"domain": ["5", "10", "15", "20", "23"], "range": [329, 478], "paddingInner": 0.18, "paddingOuter": 0.29}, "axis": null},
      "y": {"field": "med", "type": "quantitative", "scale": {"domain": [-0.0116, 0.3016], "range": [346.5, 216.5], "nice": false, "zero": false}, "axis": null}}},
    {"data": {"name": "outl"}, "transform": [{"filter": "datum.p == 'D1'"}],
     "mark": {"type": "point", "shape": "circle", "size": 8, "filled": true, "color": "#222", "opacity": 1},
     "encoding": {
      "x": {"field": "g", "type": "nominal", "scale": {"domain": ["5", "10", "15", "20", "23"], "range": [329, 478], "paddingInner": 0.18, "paddingOuter": 0.29}, "axis": null},
      "y": {"field": "v", "type": "quantitative", "scale": {"domain": [-0.0116, 0.3016], "range": [346.5, 216.5], "nice": false, "zero": false}, "axis": null}}}
   ]
  },
  {
   "data": {"name": "stats"},
   "transform": [{"filter": "datum.p == 'D2'"}],
   "resolve": {"axis": {"x": "independent", "y": "independent"}},
   "layer": [
    {"mark": {"type": "rule", "strokeDash": [4, 3], "color": "#222", "strokeWidth": 1.2},
     "encoding": {
      "x": {"field": "g", "type": "nominal", "scale": {"domain": ["5", "10", "15", "20", "23"], "range": [536, 685], "paddingInner": 0.18, "paddingOuter": 0.29},
            "axis": {"orient": "top", "offset": -216.5, "labels": false, "ticks": false, "domainColor": "#888", "title": null}},
      "y": {"field": "lo", "type": "quantitative", "scale": {"domain": [-11.6, 301.6], "range": [346.5, 216.5], "nice": false, "zero": false},
            "axis": {"orient": "right", "offset": -3, "labels": false, "ticks": false, "domainColor": "#888", "title": null}},
      "y2": {"field": "q1"}}},
    {"mark": {"type": "rule", "strokeDash": [4, 3], "color": "#222", "strokeWidth": 1.2},
     "encoding": {
      "x": {"field": "g", "type": "nominal", "scale": {"domain": ["5", "10", "15", "20", "23"], "range": [536, 685], "paddingInner": 0.18, "paddingOuter": 0.29}, "axis": null},
      "y": {"field": "q3", "type": "quantitative", "scale": {"domain": [-11.6, 301.6], "range": [346.5, 216.5], "nice": false, "zero": false}, "axis": null},
      "y2": {"field": "hi"}}},
    {"mark": {"type": "tick", "size": 11, "thickness": 1.2, "color": "#222", "opacity": 1},
     "encoding": {
      "x": {"field": "g", "type": "nominal", "scale": {"domain": ["5", "10", "15", "20", "23"], "range": [536, 685], "paddingInner": 0.18, "paddingOuter": 0.29}, "axis": null},
      "y": {"field": "lo", "type": "quantitative", "scale": {"domain": [-11.6, 301.6], "range": [346.5, 216.5], "nice": false, "zero": false}, "axis": null}}},
    {"mark": {"type": "tick", "size": 11, "thickness": 1.2, "color": "#222", "opacity": 1},
     "encoding": {
      "x": {"field": "g", "type": "nominal", "scale": {"domain": ["5", "10", "15", "20", "23"], "range": [536, 685], "paddingInner": 0.18, "paddingOuter": 0.29}, "axis": null},
      "y": {"field": "hi", "type": "quantitative", "scale": {"domain": [-11.6, 301.6], "range": [346.5, 216.5], "nice": false, "zero": false}, "axis": null}}},
    {"mark": {"type": "bar", "fill": "white", "stroke": "#222", "strokeWidth": 1.3},
     "encoding": {
      "x": {"field": "g", "type": "nominal", "scale": {"domain": ["5", "10", "15", "20", "23"], "range": [536, 685], "paddingInner": 0.18, "paddingOuter": 0.29},
            "axis": {"orient": "bottom", "offset": -89.5, "ticks": false, "domainColor": "#888", "labelFont": "Liberation Sans", "labelFontSize": 11, "labelColor": "#111", "labelPadding": 3, "labelAngle": 0, "title": "Number of datasets (k)", "titleX": 611, "titleY": 25.5, "titleAngle": 0, "titleAlign": "center", "titleBaseline": "middle", "titleFont": "Lato", "titleFontSize": 14.5, "titleFontWeight": "normal", "titleColor": "#1a1a1a"}},
      "y": {"field": "q1", "type": "quantitative", "scale": {"domain": [-11.6, 301.6], "range": [346.5, 216.5], "nice": false, "zero": false},
            "axis": {"orient": "left", "offset": -536, "values": [0, 50, 100, 150, 200, 250], "labelExpr": "datum.value == 100 || datum.value == 200 ? '' : datum.label", "labelAngle": -90, "labelAlign": "center", "labelBaseline": "bottom", "labelFont": "Liberation Sans", "labelFontSize": 10.5, "labelColor": "#222", "labelPadding": 1, "tickSize": 5, "tickColor": "#555", "domainColor": "#888", "title": "-log p-value", "titleX": -26, "titleY": 290, "titleAngle": -90, "titleAlign": "center", "titleBaseline": "middle", "titleFont": "Lato", "titleFontSize": 14, "titleFontWeight": "normal", "titleColor": "#1a1a1a"}},
      "y2": {"field": "q3"}}},
    {"mark": {"type": "tick", "size": 22.6, "thickness": 3, "color": "#000", "opacity": 1},
     "encoding": {
      "x": {"field": "g", "type": "nominal", "scale": {"domain": ["5", "10", "15", "20", "23"], "range": [536, 685], "paddingInner": 0.18, "paddingOuter": 0.29}, "axis": null},
      "y": {"field": "med", "type": "quantitative", "scale": {"domain": [-11.6, 301.6], "range": [346.5, 216.5], "nice": false, "zero": false}, "axis": null}}},
    {"data": {"name": "outl"}, "transform": [{"filter": "datum.p == 'D2'"}],
     "mark": {"type": "point", "shape": "circle", "size": 8, "filled": true, "color": "#222", "opacity": 1},
     "encoding": {
      "x": {"field": "g", "type": "nominal", "scale": {"domain": ["5", "10", "15", "20", "23"], "range": [536, 685], "paddingInner": 0.18, "paddingOuter": 0.29}, "axis": null},
      "y": {"field": "v", "type": "quantitative", "scale": {"domain": [-11.6, 301.6], "range": [346.5, 216.5], "nice": false, "zero": false}, "axis": null}}}
   ]
  }
 ]
}
